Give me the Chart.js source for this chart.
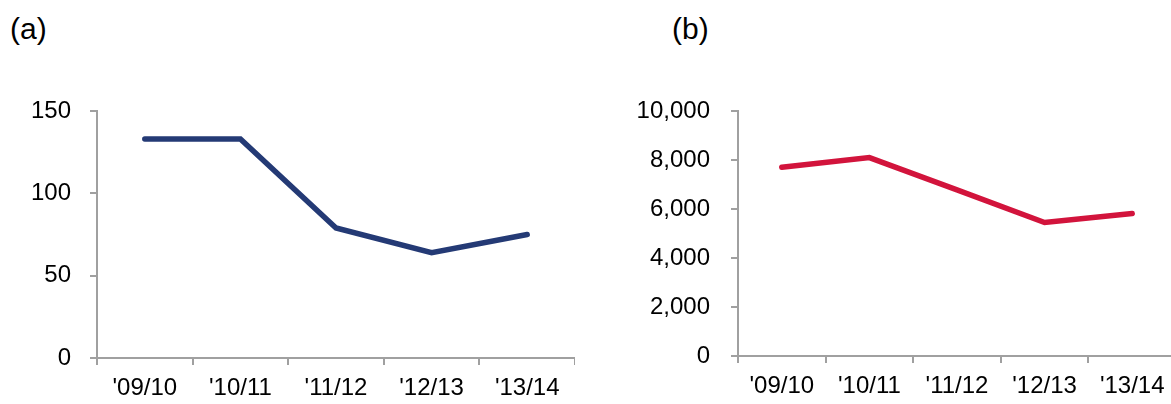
<!DOCTYPE html>
<html>
<head>
<meta charset="utf-8">
<script src="https://cdn.jsdelivr.net/npm/chart.js@4"></script>
<style>
  body { margin: 0; width: 1171px; height: 404px; overflow: hidden; background: #fff; position: relative; font-family: "Liberation Sans", Arial, sans-serif; }
  .box { position: absolute; top: 0; height: 404px; }
  .lbl { position: absolute; font-size: 30px; line-height: 30px; color: #000; }
</style>
</head>
<body>
<div class="lbl" style="left:10px; top:14px;">(a)</div>
<div class="lbl" style="left:672px; top:14px;">(b)</div>
<div class="box" style="left:0; width:575px;"><canvas id="chartA"></canvas></div>
<div class="box" style="left:620px; width:556px;"><canvas id="chartB"></canvas></div>
<script>
var years = ["'09/10", "'10/11", "'11/12", "'12/13", "'13/14"];
var valuesA = [133, 133, 79, 64, 75];
var valuesB = [7700, 8100, 6780, 5450, 5820];
var ticksA = [0, 50, 100, 150];
var ticksB = [0, 2000, 4000, 6000, 8000, 10000];

var axisGrey = '#a0a0a0';
var tickFont = { family: "'Liberation Sans', Arial, sans-serif", size: 24 };

function makeChart(id, values, color, yMax, yStep, yWidth, xHeight, yPad, fmt) {
    return new Chart(document.getElementById(id), {
        type: 'line',
        data: {
            labels: years,
            datasets: [{
                data: values,
                borderColor: color,
                borderWidth: 5.5,
                borderCapStyle: 'round',
                borderJoinStyle: 'miter',
                pointRadius: 0,
                tension: 0,
                fill: false
            }]
        },
        options: {
            responsive: true,
            maintainAspectRatio: false,
            animation: false,
            layout: { padding: { top: 111, right: 0, bottom: 0, left: 0 } },
            plugins: { legend: { display: false }, tooltip: { enabled: false } },
            scales: {
                x: {
                    offset: true,
                    grid: { offset: true, drawOnChartArea: false, drawTicks: true, tickLength: 7, color: axisGrey, lineWidth: 2 },
                    border: { color: axisGrey, width: 2 },
                    ticks: { color: '#000', font: tickFont, padding: 9, maxRotation: 0, autoSkip: false },
                    afterFit: function (s) { s.height = xHeight; }
                },
                y: {
                    min: 0,
                    max: yMax,
                    grid: { drawOnChartArea: false, drawTicks: true, tickLength: 7, color: axisGrey, lineWidth: 2 },
                    border: { color: axisGrey, width: 2 },
                    ticks: { stepSize: yStep, color: '#000', font: tickFont, padding: yPad, callback: fmt },
                    afterFit: function (s) { s.width = yWidth; }
                }
            }
        }
    });
}

makeChart('chartA', valuesA, '#243a75', ticksA[ticksA.length - 1], ticksA[1], 97, 46, 19,
    function (v) { return v; });
makeChart('chartB', valuesB, '#d2143c', ticksB[ticksB.length - 1], ticksB[1], 118, 48, 21,
    function (v) { return v.toLocaleString('en-US'); });
</script>
</body>
</html>
